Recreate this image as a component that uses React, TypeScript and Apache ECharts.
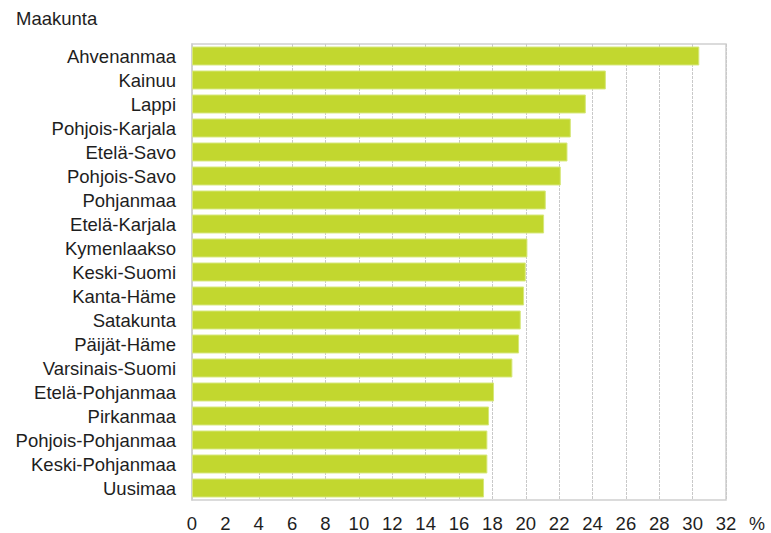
import React, { useEffect, useRef } from "react";
import * as echarts from "echarts";

const regions = [
  "Ahvenanmaa",
  "Kainuu",
  "Lappi",
  "Pohjois-Karjala",
  "Etelä-Savo",
  "Pohjois-Savo",
  "Pohjanmaa",
  "Etelä-Karjala",
  "Kymenlaakso",
  "Keski-Suomi",
  "Kanta-Häme",
  "Satakunta",
  "Päijät-Häme",
  "Varsinais-Suomi",
  "Etelä-Pohjanmaa",
  "Pirkanmaa",
  "Pohjois-Pohjanmaa",
  "Keski-Pohjanmaa",
  "Uusimaa",
];

const values = [
  30.4, 24.8, 23.6, 22.7, 22.5, 22.1, 21.2, 21.1, 20.1, 20.0, 19.9, 19.7, 19.6,
  19.2, 18.1, 17.8, 17.7, 17.7, 17.5,
];

const xMin = 0;
const xMax = 32;
const xStep = 2;

const FONT = "'Liberation Sans', Arial, sans-serif";
const TEXT = "#1e1e1e";

export default function App() {
  const ref = useRef<HTMLDivElement>(null);

  useEffect(() => {
    if (!ref.current) return;
    const chart = echarts.init(ref.current, undefined, { renderer: "svg" });
    chart.setOption({
      animation: false,
      backgroundColor: "#ffffff",
      textStyle: { fontFamily: FONT },
      grid: {
        left: 192,
        top: 44,
        right: 45,
        bottom: 30,
        containLabel: false,
        show: true,
        borderColor: "#cfcfcf",
        borderWidth: 1.5,
      },
      graphic: [
        {
          type: "text",
          left: 16,
          top: 9,
          style: {
            text: "Maakunta",
            fontSize: 18.5,
            fontFamily: FONT,
            fill: TEXT,
          },
        },
        {
          type: "text",
          left: 749,
          top: 515,
          style: {
            text: "%",
            fontSize: 18,
            fontFamily: FONT,
            fill: TEXT,
          },
        },
      ],
      xAxis: {
        type: "value",
        min: xMin,
        max: xMax,
        interval: xStep,
        axisLine: { show: false },
        axisTick: { show: false },
        axisLabel: {
          color: TEXT,
          fontSize: 18.5,
          fontFamily: FONT,
          margin: 14,
        },
        splitLine: {
          show: true,
          lineStyle: { color: "#c9c9c9", type: [3, 1], width: 1 },
        },
      },
      yAxis: {
        type: "category",
        data: regions,
        inverse: true,
        axisLine: { show: true, lineStyle: { color: "#cfcfcf", width: 1.5 } },
        axisTick: { show: false },
        axisLabel: {
          interval: 0,
          color: TEXT,
          fontSize: 18.5,
          fontFamily: FONT,
          margin: 16,
        },
      },
      series: [
        {
          type: "bar",
          data: values,
          barCategoryGap: "21%",
          itemStyle: {
            color: "#c2d72f",
            borderColor: "#d6e77a",
            borderWidth: 1,
          },
        },
      ],
    });
    return () => chart.dispose();
  }, []);

  return (
    <div
      ref={ref}
      style={{ position: "fixed", left: 0, top: 0, width: 771, height: 533 }}
    />
  );
}
